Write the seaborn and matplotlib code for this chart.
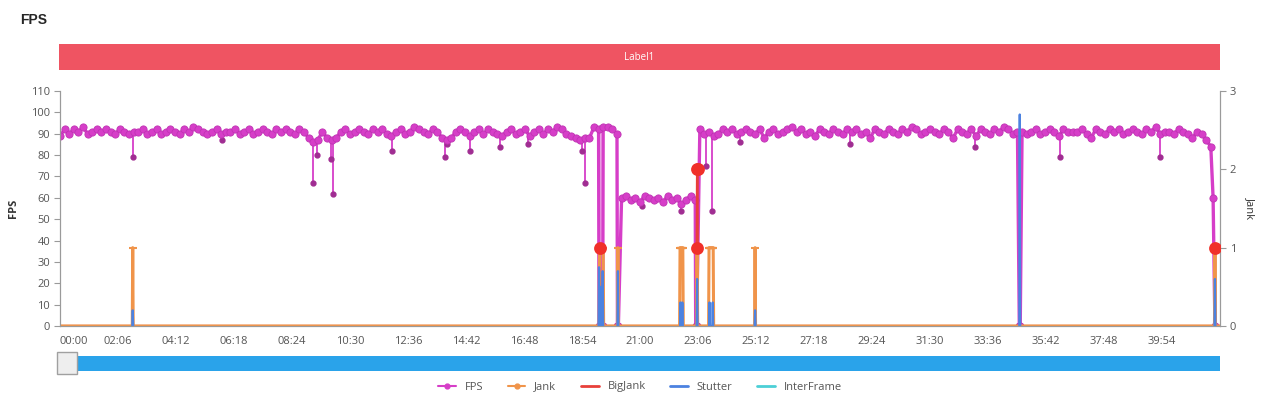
import numpy as np
import pandas as pd
import matplotlib.pyplot as plt
import seaborn as sns
from matplotlib.lines import Line2D
from matplotlib.patches import Rectangle


fps_step = 10
fps_base = [
    89, 92, 90, 92, 91, 93, 90, 91, 92, 91,
    92, 91, 90, 92, 91, 90, 91, 91, 92, 90,
    91, 92, 90, 91, 92, 91, 90, 92, 91, 93,
    92, 91, 90, 91, 92, 90, 91, 91, 92, 90,
    91, 92, 90, 91, 92, 91, 90, 92, 91, 92,
    91, 90, 92, 91, 88, 86, 87, 91, 88, 87,
    88, 91, 92, 90, 91, 92, 91, 90, 92, 91,
    92, 90, 89, 91, 92, 90, 91, 93, 92, 91,
    90, 92, 91, 88, 87, 88, 91, 92, 91, 89,
    91, 92, 90, 92, 91, 90, 89, 91, 92, 90,
    91, 92, 89, 91, 92, 90, 92, 91, 93, 92,
    90, 89, 88, 87, 88, 88, 93, 92, 93, 93,
    92, 90, 60, 61, 59, 60, 58, 61, 60, 59,
    60, 58, 61, 59, 60, 57, 59, 61, 59, 92,
    90, 91, 89, 90, 92, 91, 92, 90, 91, 92,
    91, 90, 92, 88, 91, 92, 90, 91, 92, 93,
    91, 92, 90, 91, 89, 92, 91, 90, 92, 91,
    90, 92, 91, 92, 90, 91, 88, 92, 91, 90,
    92, 91, 90, 92, 91, 93, 92, 90, 91, 92,
    91, 90, 92, 91, 88, 92, 91, 90, 92, 89,
    92, 91, 90, 92, 91, 93, 92, 90, 91, 91,
    90, 91, 92, 90, 91, 92, 91, 89, 92, 91,
    91, 91, 92, 90, 88, 92, 91, 90, 92, 91,
    92, 90, 91, 92, 91, 90, 92, 91, 93, 90,
    91, 91, 90, 92, 91, 90, 88, 91, 90, 87,
    84,
]
# short drops (loading screens), seconds
fps_drop_t = [1171, 1179, 1211, 1213, 1381, 1383, 2084, 2086, 2505, 2509]
fps_drop_v = [0, 0, 0, 0, 0, 0, 0, 0, 60, 0]
# single-frame dips
fps_dip_t = [159, 352, 550, 558, 589, 593, 721, 836, 841, 891, 956, 1017,
             1134, 1141, 1265, 1350, 1403, 1416, 1477, 1716, 1988, 2172, 2390]
fps_dip_v = [79, 87, 67, 80, 78, 62, 82, 79, 85, 82, 84, 85,
             82, 67, 56, 54, 75, 54, 86, 85, 84, 79, 79]

# event series (1 s resolution), times in seconds, Jank axis units
jank_start = [158, 1172, 1212, 1347, 1384, 1410, 1510, 2509]
jank_end = [158, 1180, 1212, 1353, 1384, 1419, 1510, 2509]
jank_level = [1, 1, 1, 1, 1, 1, 1, 1]
bigjank_t = [1173, 1383, 1384, 1385, 2509]
bigjank_v = [1, 1, 2, 2, 1]
stutter_t = [158, 1171, 1175, 1179, 1212, 1348, 1352, 1384, 1411, 1418, 1510, 2085, 2509]
stutter_v = [0.2, 0.75, 0.5, 0.7, 0.7, 0.3, 0.3, 0.6, 0.3, 0.3, 0.2, 2.7, 0.6]

duration = 2520
tick_step = 126

colors = {
    "FPS": "#d63ec8",
    "Jank": "#f0944a",
    "BigJank": "#e8403a",
    "Stutter": "#4c82e0",
    "InterFrame": "#4ccfd6",
}

# build tables
fps = pd.DataFrame({
    "t": np.concatenate([np.arange(len(fps_base)) * fps_step, fps_drop_t]),
    "fps": np.concatenate([fps_base, fps_drop_v]),
}).sort_values("t")
dip_top = np.interp(fps_dip_t, fps["t"], fps["fps"])

sec = np.arange(duration + 1)
jank = np.zeros(len(sec))
for s, e, v in zip(jank_start, jank_end, jank_level):
    jank[s:e + 1] = v
bigjank = np.zeros(len(sec))
bigjank[bigjank_t] = bigjank_v
stutter = np.zeros(len(sec))
stutter[stutter_t] = stutter_v
# keep only the spikes so the zero line stays orange
near = (stutter > 0) | (np.roll(stutter, 1) > 0) | (np.roll(stutter, -1) > 0)
stutter_spikes = np.where(near, stutter, np.nan)
interframe = np.zeros(len(sec))

sns.set_theme(style="white")
plt.rcParams["font.family"] = ["Open Sans", "DejaVu Sans"]

fig = plt.figure(figsize=(12.8, 4), dpi=100)
ax = fig.add_axes([60 / 1280, 1 - 326 / 400, 1160 / 1280, 235 / 400])
ax2 = ax.twinx()

# FPS (left axis)
ax.fill_between(fps_drop_t[:2], 0, 92, color="#f3c6ee", lw=0)
ax.vlines(fps_dip_t, fps_dip_v, dip_top, color=colors["FPS"], lw=1.3)
ax.plot(fps_dip_t, fps_dip_v, "o", ms=3.5, color="#a02d92")
sns.lineplot(data=fps, x="t", y="fps", ax=ax, color=colors["FPS"], lw=2.4,
             marker="o", markersize=5.2, markeredgecolor="#c034b4",
             markeredgewidth=0.6, estimator=None, sort=False)

# right axis: jank family
sns.lineplot(x=sec, y=interframe, ax=ax2, color=colors["InterFrame"], lw=1, estimator=None)
sns.lineplot(x=sec, y=bigjank, ax=ax2, color=colors["BigJank"], lw=1.6, estimator=None)
sns.lineplot(x=sec, y=jank, ax=ax2, color=colors["Jank"], lw=2.2, estimator=None)
ax2.plot(sec, stutter_spikes, color=colors["Stutter"], lw=1.6)
on = jank > 0
ax2.plot(sec[on], jank[on], "_", ms=6, mew=1.5, color=colors["Jank"])
big = bigjank > 0
ax2.scatter(sec[big], bigjank[big], s=85, color="#f0302a", zorder=5, lw=0)

ax.set_xlim(0, duration)
ax.set_ylim(0, 110)
ax2.set_ylim(0, 3)
ax.set_yticks(np.arange(0, 111, 10))
ax2.set_yticks([0, 1, 2, 3])

ticks = np.arange(0, duration, tick_step)
ax.set_xticks(ticks)
ax.set_xticklabels([f"{t // 60:02d}:{t % 60:02d}" for t in ticks])
ax.get_xticklabels()[0].set_horizontalalignment("left")

for a in (ax, ax2):
    a.spines["top"].set_visible(False)
    for side in ("left", "right", "bottom"):
        a.spines[side].set_color("#9a9a9a")
        a.spines[side].set_linewidth(0.8)
    a.tick_params(length=4, width=0.8, color="#9a9a9a", labelsize=8,
                  labelcolor="#555555", pad=3)
    a.grid(False)
    a.set_xlabel("")

ax.set_ylabel("FPS", fontsize=8, fontweight="bold", color="#333333", labelpad=9)
ax2.set_ylabel("Jank", fontsize=8, color="#333333", rotation=-90, labelpad=14)

# title and label band
fig.text(20 / 1280, 1 - 20 / 400, "FPS", fontsize=10, fontweight="bold",
         va="center", family=["Liberation Sans", "DejaVu Sans"])
band = fig.add_axes([59 / 1280, 1 - 70 / 400, 1161 / 1280, 26 / 400])
band.set_facecolor("#ef5462")
band.set_xticks([])
band.set_yticks([])
for sp in band.spines.values():
    sp.set_visible(False)
band.text(0.5, 0.5, "Label1", color="white", fontsize=7, ha="center",
          va="center", transform=band.transAxes)

# zoom slider
slider = fig.add_axes([62 / 1280, 1 - 371 / 400, 1158 / 1280, 15 / 400])
slider.set_facecolor("#2aa3ea")
slider.set_xticks([])
slider.set_yticks([])
for sp in slider.spines.values():
    sp.set_visible(False)
fig.patches.append(Rectangle((57 / 1280, 1 - 374 / 400), 20 / 1280, 22 / 400,
                             transform=fig.transFigure, fc="#eeeeee",
                             ec="#a0a0a0", lw=1, zorder=10))

# legend
handles = [
    Line2D([], [], color=colors["FPS"], marker="o", markersize=3.5, lw=1.5),
    Line2D([], [], color=colors["Jank"], marker="o", markersize=3.5, lw=1.5),
    Line2D([], [], color=colors["BigJank"], lw=2),
    Line2D([], [], color=colors["Stutter"], lw=2),
    Line2D([], [], color=colors["InterFrame"], lw=2),
]
fig.legend(handles, list(colors), loc="center", bbox_to_anchor=(0.5, 1 - 387 / 400),
           ncol=5, frameon=False, fontsize=8, handlelength=1.6,
           columnspacing=2.2, labelcolor="#555555")

fig.savefig("out.png", dpi=100)
